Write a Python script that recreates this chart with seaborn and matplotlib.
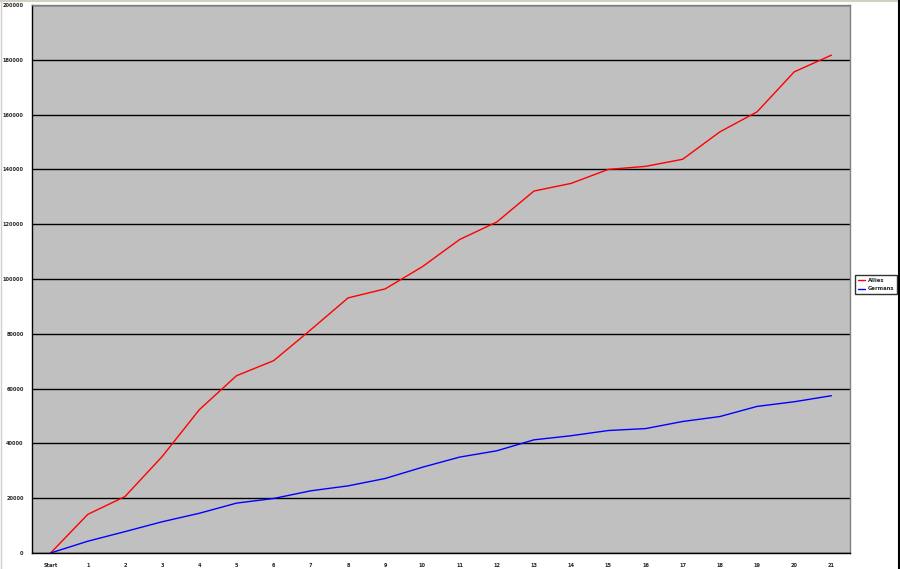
import pandas as pd
import matplotlib.pyplot as plt
import seaborn as sns
import numpy as np
from matplotlib.lines import Line2D

# ===== DATA =====
rounds = ['Start'] + [str(i) for i in range(1, 22)]
allies = [0, 14100, 20600, 35200, 52300, 64700, 70200, 81500, 93100, 96400, 104500,
          114400, 120800, 132100, 134900, 140000, 141100, 143700, 153700, 161000,
          175600, 181700]
germans = [0, 4300, 7800, 11400, 14500, 18200, 19900, 22700, 24500, 27200, 31300,
           35000, 37300, 41300, 42800, 44700, 45400, 48000, 49800, 53500,
           55200, 57400]

df = pd.DataFrame({'Round': rounds * 2,
                   'Value': allies + germans,
                   'Side': ['Allies'] * len(rounds) + ['Germans'] * len(rounds)})

# ===== PLOT =====
sns.set_style("white")
plt.rcParams['font.family'] = ['DejaVu Sans']

fig = plt.figure(figsize=(9, 5.69), dpi=100)
ax = fig.add_axes([32 / 900, 16 / 569, 818 / 900, 548 / 569])
ax.set_facecolor('#C0C0C0')

sns.lineplot(data=df, x='Round', y='Value', hue='Side',
             palette={'Allies': '#FF0000', 'Germans': '#0000FF'},
             linewidth=1, sort=False, ax=ax)

ax.set_xlim(-0.5, len(rounds) - 0.5)
ax.set_ylim(0, 200000)
ax.set_yticks(np.arange(0, 200001, 20000))
ax.yaxis.grid(True, color='black', linewidth=1)
ax.set_axisbelow(True)

# category labels centred, tick marks on boundaries
ax.set_xticks(range(len(rounds)))
ax.set_xticklabels(rounds, fontsize=3.6, fontweight='bold')
ax.set_xticks(np.arange(-0.5, len(rounds), 1), minor=True)
ax.tick_params(axis='x', which='major', length=0, pad=7)
ax.tick_params(axis='x', which='minor', length=3, width=1, color='black', direction='out')
ax.tick_params(axis='y', length=3, width=1, color='black', direction='out', pad=3,
               labelsize=3.6)
for lab in ax.get_yticklabels():
    lab.set_fontweight('bold')
ax.set_xlabel('')
ax.set_ylabel('')

for side in ['left', 'bottom']:
    ax.spines[side].set_color('black')
    ax.spines[side].set_linewidth(1)
for side in ['top', 'right']:
    ax.spines[side].set_color('#808080')
    ax.spines[side].set_linewidth(1)

leg = ax.legend(loc='center left', bbox_to_anchor=(855 / 900, 0.5),
                bbox_transform=fig.transFigure, fontsize=3.8,
                frameon=True, fancybox=False, edgecolor='black', handlelength=1.4,
                handletextpad=0.5, borderpad=0.5, labelspacing=0.7, borderaxespad=0)
leg.get_frame().set_linewidth(1)
for t in leg.get_texts():
    t.set_fontweight('bold')

# window edges of the original screenshot
fig.add_artist(Line2D([0, 1], [0.999, 0.999], transform=fig.transFigure, color='#D4D0C8', lw=1.5))
fig.add_artist(Line2D([0.0006, 0.0006], [0, 1], transform=fig.transFigure, color='#D4D0C8', lw=1))
fig.add_artist(Line2D([0.999, 0.999], [0, 1], transform=fig.transFigure, color='black', lw=1.5))

plt.savefig("out.png", dpi=100, facecolor='white')
plt.close()
